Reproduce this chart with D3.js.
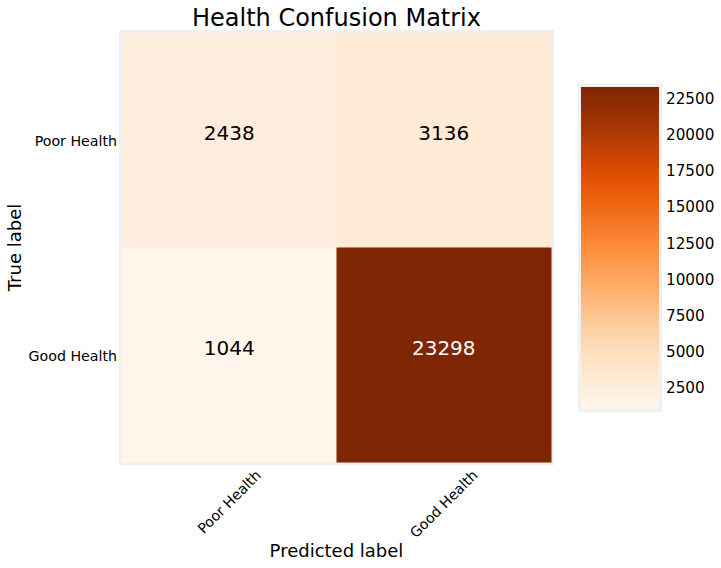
<!DOCTYPE html>
<html><head><meta charset="utf-8">
<script src="https://cdn.jsdelivr.net/npm/d3@7"></script>
<style>body{margin:0;background:#fff}text{font-family:"DejaVu Sans",sans-serif}</style>
</head><body>
<script>
const classes = ["Poor Health", "Good Health"];
const matrix = [[2438, 3136], [1044, 23298]];
const cbTicks = [2500, 5000, 7500, 10000, 12500, 15000, 17500, 20000, 22500];
const orangeStops = ["#fff5eb","#fee6ce","#fdd0a2","#fdae6b","#fd8d3c","#f16913","#d94801","#a63603","#7f2704"];
const title = "Health Confusion Matrix";

const W = 721, H = 568;
const svg = d3.select("body").append("svg").attr("width", W).attr("height", H);
const X0 = 122, Y0 = 33, S = 429;
const flat = matrix.flat();
const vmin = d3.min(flat), vmax = d3.max(flat);
const t = d3.scaleLinear().domain([vmin, vmax]).range([0, 1]);
const cmap = d3.scaleLinear().domain(orangeStops.map((d,i)=>i/(orangeStops.length-1))).range(orangeStops).interpolate(d3.interpolateRgb);
const color = v => cmap(t(v));

const x = d3.scaleBand().domain(d3.range(classes.length)).range([X0, X0+S]);
const y = d3.scaleBand().domain(d3.range(classes.length)).range([Y0, Y0+S]);

// frame
svg.append("rect").attr("x", X0-1.5).attr("y", Y0-1.5).attr("width", S+3).attr("height", S+3)
  .attr("fill", "none").attr("stroke", "#f0f0f0").attr("stroke-width", 3);

const cells = [];
matrix.forEach((row, i) => row.forEach((v, j) => cells.push({i, j, v})));
svg.selectAll("rect.cell").data(cells).enter().append("rect").attr("class","cell")
  .attr("x", d => x(d.j)).attr("y", d => y(d.i))
  .attr("width", x.bandwidth()+0.5).attr("height", y.bandwidth()+0.5)
  .attr("fill", d => color(d.v));
svg.selectAll("text.val").data(cells).enter().append("text").attr("class","val")
  .attr("x", d => x(d.j) + x.bandwidth()/2).attr("y", d => y(d.i) + y.bandwidth()/2 - 7)
  .attr("text-anchor","middle").attr("dominant-baseline","central")
  .attr("font-size", 20).attr("fill", d => d.v > vmax/2 ? "#fff" : "#000").text(d => d.v);

// y tick labels
svg.selectAll("text.ytl").data(classes).enter().append("text").attr("class","ytl")
  .attr("x", X0 - 5).attr("y", (d,i) => y(i) + y.bandwidth()/2 + 1)
  .attr("text-anchor","end").attr("dominant-baseline","central").attr("font-size", 14.2).text(d => d);

// x tick labels rotated 45, centered
svg.selectAll("text.xtl").data(classes).enter().append("text").attr("class","xtl")
  .attr("text-anchor","middle").attr("dominant-baseline","central").attr("font-size", 14.2).text(d => d)
  .each(function(d,i){
    const w = this.getComputedTextLength(), h = 16;
    const bh = (w + h) * Math.SQRT1_2;
    d3.select(this).attr("transform", `translate(${x(i)+x.bandwidth()/2},${467 + bh/2}) rotate(-45)`);
  });

svg.append("text").attr("x", X0 + S/2).attr("y", 26).attr("text-anchor","middle").attr("font-size", 24).text(title);
svg.append("text").attr("x", X0 + S/2).attr("y", 557).attr("text-anchor","middle").attr("font-size", 18).text("Predicted label");
svg.append("text").attr("transform", `translate(21,${Y0+S/2}) rotate(-90)`).attr("text-anchor","middle").attr("font-size", 18).text("True label");

// colorbar
const CX = 581, CY0 = 87, CY1 = 409, CW = 78;
const defs = svg.append("defs");
const grad = defs.append("linearGradient").attr("id","cbg").attr("x1",0).attr("y1",1).attr("x2",0).attr("y2",0);
d3.range(0, 1.0001, 0.05).forEach(s => grad.append("stop").attr("offset", s).attr("stop-color", cmap(s)));
svg.append("rect").attr("x", CX-1.5).attr("y", CY0-1.5).attr("width", CW+3).attr("height", CY1-CY0+3)
  .attr("fill","none").attr("stroke","#f0f0f0").attr("stroke-width",3);
svg.append("rect").attr("x", CX).attr("y", CY0).attr("width", CW).attr("height", CY1-CY0).attr("fill","url(#cbg)");
const cy = d3.scaleLinear().domain([vmin, vmax]).range([CY1, CY0]);
const cAxis = d3.axisRight(cy).tickValues(cbTicks).tickSize(0).tickPadding(7).tickFormat(d3.format("d"));
const ga = svg.append("g").attr("transform", `translate(${CX+CW},0)`).call(cAxis);
ga.select(".domain").remove();
ga.selectAll("text").attr("font-size", 15.2).attr("font-family","DejaVu Sans").attr("fill","#000");
</script>
</body></html>
